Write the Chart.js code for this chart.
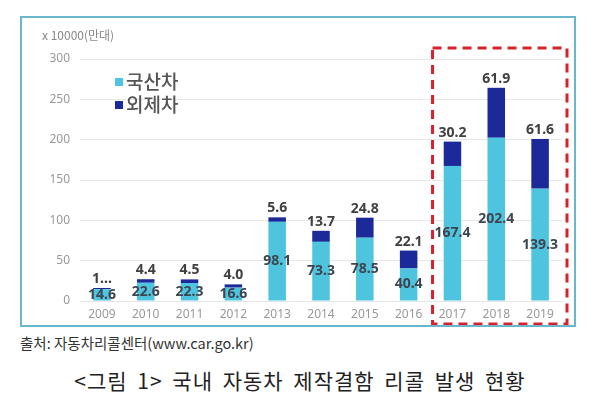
<!DOCTYPE html>
<html>
<head>
<meta charset="utf-8">
<script src="https://cdn.jsdelivr.net/npm/chart.js@4"></script>
<style>
  body { margin: 0; width: 600px; height: 395px; background: #fff; position: relative; overflow: hidden; }
  .frame { position: absolute; left: 20px; top: 16px; width: 552px; height: 307px; border: 2px solid #6ab7cb; }
  .frame canvas { display: block; }
  .source { position: absolute; left: 20px; top: 332px; font: 14.5px "Noto Sans CJK KR", "Noto Sans", sans-serif; color: #333; line-height: 21px; }
  .caption { position: absolute; left: 0; width: 600px; top: 365px; text-align: center; font: 21px "Noto Sans CJK KR", sans-serif; color: #222; letter-spacing: 1px; word-spacing: 4px; line-height: 30px; }
</style>
</head>
<body>
<div class="frame"><canvas id="myChart" width="552" height="307"></canvas></div>
<div class="source">출처: 자동차리콜센터(www.car.go.kr)</div>
<div class="caption">&lt;그림 1&gt; 국내 자동차 제작결함 리콜 발생 현황</div>
<script>
// 연도별 리콜 대수 (만대)
const years = ['2009', '2010', '2011', '2012', '2013', '2014', '2015', '2016', '2017', '2018', '2019'];
const domestic = [14.6, 22.6, 22.3, 16.6, 98.1, 73.3, 78.5, 40.4, 167.4, 202.4, 139.3];
const foreign = [1.5, 4.4, 4.5, 4.0, 5.6, 13.7, 24.8, 22.1, 30.2, 61.9, 61.6];
const foreignText = ['1…', '4.4', '4.5', '4.0', '5.6', '13.7', '24.8', '22.1', '30.2', '61.9', '61.6'];
const yTicks = [0, 50, 100, 150, 200, 250, 300];

const canvas = document.getElementById('myChart');

// value labels, legend, unit label, red box
const extras = {
    id: 'extras',
    afterDatasetsDraw(chart) {
        const ctx = chart.ctx;
        const x = chart.scales.x, y = chart.scales.y;
        ctx.save();
        ctx.textAlign = 'center';
        ctx.textBaseline = 'middle';
        ctx.font = 'bold 14px "Noto Sans", sans-serif';

        chart.getDatasetMeta(0).data.forEach((bar, i) => {
            ctx.fillStyle = '#3d4650';
            ctx.fillText(domestic[i].toFixed(1), bar.x, (bar.y + bar.base) / 2);
        });
        chart.getDatasetMeta(1).data.forEach((bar, i) => {
            ctx.fillStyle = '#404040';
            ctx.fillText(foreignText[i], bar.x, bar.y - 9);
        });

        // legend
        ctx.textAlign = 'left';
        ctx.font = '500 19px "Noto Sans CJK KR", sans-serif';
        chart.data.datasets.forEach((ds, i) => {
            let ly = 64 + i * 23;
            ctx.fillStyle = ds.backgroundColor;
            ctx.fillRect(93, ly - 4, 8, 8);
            ctx.fillStyle = '#555';
            ctx.fillText(ds.label, 104, ly);
        });

        // unit
        ctx.font = '12px "Noto Sans CJK KR", sans-serif';
        ctx.fillStyle = '#888';
        ctx.fillText('x 10000(만대)', 20, 17);

        // red dashed box around 2017-2019
        let half = (x.getPixelForValue(9) - x.getPixelForValue(8)) / 2;
        let left = x.getPixelForValue(8) - half + 2;
        let right = x.getPixelForValue(10) + half + 5;
        ctx.strokeStyle = '#d8222b';
        ctx.lineWidth = 3;
        ctx.setLineDash([9, 6]);
        ctx.strokeRect(left, 30, right - left, 276);
        ctx.restore();
    }
};

new Chart(canvas, {
    type: 'bar',
    data: {
        labels: years,
        datasets: [
            { label: '국산차', data: domestic, backgroundColor: '#4fc4de' },
            { label: '외제차', data: foreign, backgroundColor: '#1b2a98' }
        ]
    },
    options: {
        responsive: false,
        animation: false,
        barPercentage: 0.4,
        categoryPercentage: 1,
        layout: { padding: { top: 41, right: 12, left: 0, bottom: 0 } },
        plugins: { legend: { display: false }, tooltip: { enabled: false } },
        scales: {
            x: {
                stacked: true,
                grid: { display: false, drawTicks: false },
                border: { display: false },
                ticks: { color: '#999', padding: 6, font: { family: 'Noto Sans', size: 12 } },
                afterFit(s) { s.height = 24; }
            },
            y: {
                stacked: true,
                min: 0,
                max: 300,
                afterBuildTicks(s) { s.ticks = yTicks.map(v => ({ value: v })); },
                grid: { color: '#e6e6e6', drawTicks: false },
                border: { display: false },
                ticks: { color: '#999', padding: 10, font: { family: 'Noto Sans', size: 12 } },
                afterFit(s) { s.width = 58; }
            }
        }
    },
    plugins: [extras]
});
</script>
</body>
</html>
